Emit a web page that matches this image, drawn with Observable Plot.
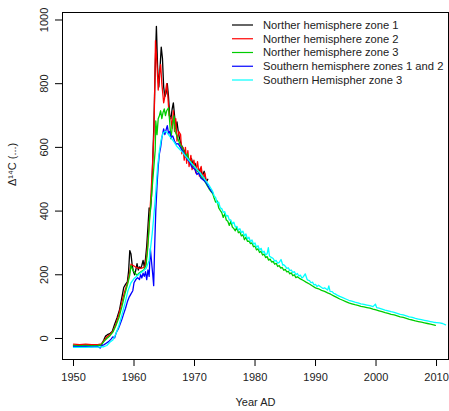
<!DOCTYPE html>
<html>
<head>
<meta charset="utf-8">
<script src="https://cdn.jsdelivr.net/npm/d3@7"></script>
<script src="https://cdn.jsdelivr.net/npm/@observablehq/plot@0.6"></script>
<style>
  html, body { margin: 0; padding: 0; background: white; }
  #chart { position: relative; width: 449px; height: 411px; }
</style>
</head>
<body>
<div id="chart"></div>
<script>
// ---- Data ----
const seriesNames = [
  "Norther hemisphere zone 1",
  "Norther hemisphere zone 2",
  "Norther hemisphere zone 3",
  "Southern hemisphere zones 1 and 2",
  "Southern Hemispher zone 3"
];
const seriesColors = ["black", "red", "#00CD00", "blue", "cyan"];
const xTicks = [1950, 1960, 1970, 1980, 1990, 2000, 2010];
const yTicks = [0, 200, 400, 600, 800, 1000];
const xLabel = "Year AD";
const yLabel = "Δ¹⁴C (...)";

const nh1 = [[1950.0,-22],[1951,-23],[1952,-22],[1953,-23],[1954,-22],[1954.6,-20],[1955,-5],[1955.3,8],[1955.6,12],[1956,15],[1956.4,22],[1956.8,45],[1957.2,65],[1957.6,90],[1958,130],[1958.3,160],[1958.6,170],[1958.9,178],[1959.1,210],[1959.3,276],[1959.5,265],[1959.7,230],[1959.9,210],[1960.1,200],[1960.3,215],[1960.5,235],[1960.7,215],[1960.9,225],[1961.1,220],[1961.3,230],[1961.5,245],[1961.7,225],[1961.9,250],[1962.1,290],[1962.3,350],[1962.5,410],[1962.7,400],[1962.9,450],[1963.1,560],[1963.3,680],[1963.5,850],[1963.7,980],[1963.9,850],[1964.1,790],[1964.3,850],[1964.5,915],[1964.7,880],[1964.9,790],[1965.1,760],[1965.3,770],[1965.5,800],[1965.7,760],[1965.9,700],[1966.1,690],[1966.3,720],[1966.5,740],[1966.7,700],[1966.9,660],[1967.1,680],[1967.3,652],[1967.5,630],[1967.8,610],[1968,600],[1968.3,590],[1968.6,575],[1968.9,570],[1969.2,555],[1969.5,565],[1969.8,540],[1970.1,550],[1970.4,530],[1970.7,520],[1971,535],[1971.3,510],[1971.6,525],[1971.9,490],[1972.2,500]];

const nh2 = [[1950.0,-18],[1951,-19],[1952,-18],[1953,-19],[1954,-19],[1954.6,-17],[1955,-8],[1955.5,5],[1956,12],[1956.5,22],[1957,45],[1957.5,75],[1958,115],[1958.5,150],[1959,180],[1959.3,210],[1959.5,233],[1959.8,230],[1960.2,225],[1960.6,222],[1961,220],[1961.4,222],[1961.8,225],[1962.1,260],[1962.4,330],[1962.7,420],[1963,520],[1963.3,650],[1963.55,935],[1963.8,860],[1964,780],[1964.2,830],[1964.4,860],[1964.6,800],[1964.9,740],[1965.1,760],[1965.4,800],[1965.6,760],[1965.8,700],[1966.1,690],[1966.3,660],[1966.5,715],[1966.7,650],[1966.9,690],[1967.1,620],[1967.4,650],[1967.7,640],[1967.9,580],[1968.1,600],[1968.3,560],[1968.5,600],[1968.7,550],[1968.9,590],[1969.1,540],[1969.4,575],[1969.6,530],[1969.9,560],[1970.2,520],[1970.5,555],[1970.8,510],[1971.1,540],[1971.4,500],[1971.7,520],[1972,490]];

const nh3 = [[1950.0,-22],[1951,-23],[1952,-22],[1953,-23],[1954,-22],[1954.6,-20],[1955,-10],[1955.5,0],[1956,8],[1956.5,20],[1957,40],[1957.5,65],[1958,100],[1958.5,140],[1959,175],[1959.3,200],[1959.5,229],[1959.8,215],[1960.2,205],[1960.5,198],[1960.8,205],[1961.2,210],[1961.6,215],[1962,230],[1962.3,290],[1962.6,380],[1962.9,450],[1963.2,520],[1963.5,590],[1963.6,683],[1963.8,640],[1964,690],[1964.2,700],[1964.4,715],[1964.6,690],[1964.8,710],[1965,721],[1965.2,700],[1965.4,715],[1965.7,724],[1965.9,680],[1966.1,627],[1966.3,660],[1966.6,699],[1966.8,650],[1967,640],[1967.3,625],[1967.6,610],[1967.9,600],[1968.2,590],[1968.5,570],[1968.8,580],[1969.1,560],[1969.4,555],[1969.7,545],[1970,540],[1970.3,530],[1970.6,525],[1970.9,515],[1971.2,505],[1971.5,500],[1971.8,490],[1972.1,480],[1972.4,470],[1972.7,462],[1973.0,455],[1973.25,440],[1973.5,428],[1973.75,432],[1974.0,410],[1974.25,402],[1974.5,395],[1974.75,380],[1975.0,392],[1975.25,372],[1975.5,368],[1975.75,355],[1976.0,368],[1976.25,350],[1976.5,345],[1976.75,338],[1977.0,350],[1977.25,332],[1977.5,335],[1977.75,322],[1978.0,326],[1978.25,310],[1978.5,318],[1978.75,305],[1979.0,306],[1979.25,298],[1979.5,300],[1979.75,288],[1980.0,290],[1980.25,278],[1980.5,282],[1980.75,270],[1981.0,274],[1981.25,262],[1981.5,265],[1981.75,254],[1982.0,257],[1982.25,246],[1982.5,249],[1982.75,240],[1983.0,242],[1983.25,233],[1983.5,236],[1983.75,226],[1984.0,229],[1984.25,221],[1984.5,223],[1984.75,214],[1985.0,217],[1985.25,209],[1985.5,211],[1985.75,203],[1986.0,206],[1986.25,197],[1986.5,200],[1986.75,191],[1987.0,194],[1987.5,187],[1988.0,182],[1988.5,176],[1989.0,171],[1989.5,165],[1990.0,159],[1990.5,156],[1991.0,151],[1991.5,148],[1992.0,143],[1992.5,139],[1993.0,134],[1993.5,129],[1994.0,124],[1994.5,120],[1995.0,116],[1995.5,112],[1996.0,109],[1996.5,106],[1997.0,104],[1997.5,101],[1998.0,99],[1998.5,97],[1999.0,95],[1999.5,92],[2000.0,90],[2000.5,87],[2001.0,84],[2001.5,81],[2002.0,79],[2002.5,76],[2003.0,74],[2003.5,71],[2004.0,68],[2004.5,66],[2005.0,63],[2005.5,60],[2006.0,58],[2006.5,55],[2007.0,53],[2007.5,51],[2008.0,49],[2008.5,47],[2009.0,45],[2009.5,43],[2009.8,41]];

const sh12 = [[1950.0,-25],[1951,-26],[1952,-25],[1953,-26],[1954,-25],[1954.4,-30],[1954.7,-22],[1955,-20],[1955.4,-15],[1955.8,-10],[1956.2,-2],[1956.5,5],[1956.8,2],[1957.1,20],[1957.4,30],[1957.7,45],[1958,60],[1958.3,78],[1958.6,95],[1958.9,115],[1959.2,130],[1959.5,140],[1959.8,150],[1960,175],[1960.3,185],[1960.6,191],[1960.9,185],[1961.1,200],[1961.3,190],[1961.5,205],[1961.7,195],[1961.9,210],[1962.1,185],[1962.3,215],[1962.5,195],[1962.7,282],[1962.9,240],[1963.1,200],[1963.25,166],[1963.4,280],[1963.6,400],[1963.8,480],[1964,540],[1964.2,580],[1964.4,600],[1964.6,630],[1964.9,658],[1965.1,640],[1965.3,655],[1965.5,668],[1965.7,645],[1965.9,650],[1966.1,630],[1966.4,636],[1966.7,620],[1967,610],[1967.3,612],[1967.7,599],[1968,590],[1968.3,580],[1968.6,570],[1968.9,560],[1969.2,555],[1969.5,540],[1969.8,535],[1970.1,530],[1970.4,515],[1970.7,520],[1971,505],[1971.3,500],[1971.6,495],[1971.9,490],[1972.2,480],[1972.5,470],[1972.8,462],[1973.1,455]];

const sh3 = [[1950.0,-28],[1951,-28],[1952,-28],[1953,-27],[1954,-27],[1955,-26],[1955.5,-22],[1956,-12],[1956.5,-5],[1957,15],[1957.5,40],[1958,75],[1958.5,110],[1959,150],[1959.5,175],[1960,188],[1960.5,196],[1961,205],[1961.5,212],[1962,220],[1962.5,245],[1963,328],[1963.3,390],[1963.6,460],[1963.9,540],[1964.2,590],[1964.5,625],[1964.8,645],[1965.1,650],[1965.4,648],[1965.7,640],[1966,632],[1966.3,625],[1966.7,615],[1967,605],[1967.5,595],[1968,585],[1968.5,573],[1969,562],[1969.5,550],[1970,540],[1970.5,528],[1971,518],[1971.5,505],[1972,492],[1972.5,478],[1973.0,462],[1973.25,448],[1973.5,442],[1973.75,425],[1974.0,428],[1974.25,410],[1974.5,408],[1974.75,396],[1975.0,398],[1975.25,384],[1975.5,386],[1975.75,372],[1976.0,372],[1976.25,360],[1976.5,365],[1976.75,350],[1977.0,352],[1977.25,340],[1977.5,345],[1977.75,332],[1978.0,337],[1978.25,322],[1978.5,328],[1978.75,312],[1979.0,318],[1979.25,304],[1979.5,309],[1979.75,296],[1980.0,300],[1980.25,286],[1980.5,291],[1980.75,278],[1981.0,283],[1981.25,270],[1981.5,274],[1981.75,262],[1982.0,266],[1982.2,285],[1982.4,258],[1982.75,254],[1983.0,251],[1983.25,243],[1983.5,245],[1983.75,236],[1984.0,239],[1984.3,248],[1984.6,230],[1984.75,232],[1985.0,227],[1985.25,220],[1985.5,222],[1985.75,213],[1986.0,215],[1986.25,207],[1986.5,210],[1986.75,200],[1987.0,204],[1987.25,196],[1987.5,199],[1987.75,190],[1988.0,194],[1988.3,203],[1988.6,186],[1988.75,183],[1989.0,182],[1989.25,175],[1989.5,177],[1989.75,168],[1990.0,170],[1990.25,163],[1990.5,167],[1991.0,160],[1991.25,157],[1991.5,159],[1992.0,152],[1992.2,165],[1992.4,148],[1992.75,147],[1993.0,142],[1993.25,140],[1993.5,137],[1994.0,132],[1994.5,128],[1995.0,124],[1995.5,120],[1996.0,117],[1996.5,114],[1997.0,112],[1997.5,109],[1998.0,107],[1998.5,105],[1999.0,103],[1999.5,100],[1999.9,108],[2000.1,97],[2000.5,95],[2001.0,92],[2001.5,89],[2002.0,87],[2002.5,84],[2003.0,82],[2003.5,79],[2004.0,76],[2004.5,74],[2005.0,71],[2005.5,68],[2006.0,66],[2006.5,63],[2007.0,61],[2007.5,59],[2008.0,57],[2008.5,55],[2009.0,53],[2009.5,51],[2010.0,50],[2010.5,49],[2011.0,47],[2011.5,43]];

// ---- Build table ----
const seriesData = [nh1, nh2, nh3, sh12, sh3];
const rows = seriesData.flatMap((s, i) => s.map(([year, d14c]) => ({name: seriesNames[i], year, d14c})));

const W = 449, H = 411;
const mL = 62, mR = 1, mT = 12, mB = 52;
const FONT = "'Liberation Sans', Arial, Helvetica, sans-serif";

const chart = Plot.plot({
  width: W,
  height: H,
  marginLeft: mL,
  marginRight: mR,
  marginTop: mT,
  marginBottom: mB,
  style: {fontFamily: FONT, fontSize: "11px", background: "white", overflow: "visible"},
  x: {domain: [1948.18, 2011.98]},
  y: {domain: [-66, 1023.5]},
  color: {domain: seriesNames, range: seriesColors},
  marks: [
    Plot.line(rows, {x: "year", y: "d14c", z: "name", stroke: "name", strokeWidth: 1.3}),
    Plot.frame({stroke: "black", strokeWidth: 1}),
    Plot.axisX(xTicks, {tickSize: 7, tickPadding: 7, tickFormat: d => String(d), fontSize: 11, label: null, stroke: "black", color: "#222"}),
    Plot.axisY(yTicks, {tickSize: 7, tickPadding: 8, tickRotate: -90, tickFormat: d => String(d), fontSize: 11, label: null, stroke: "black", color: "#222"}),
    Plot.text([yLabel], {frameAnchor: "left", dx: -50, rotate: -90, fontSize: 11, fill: "#222"}),
    Plot.text([xLabel], {frameAnchor: "bottom", dy: 46, fontSize: 11, fill: "#222"})
  ]
});

document.getElementById("chart").appendChild(chart);

// ---- Legend (inside plot area, no box) ----
const svg = d3.select(chart);
const lg = svg.append("g")
  .attr("font-family", FONT)
  .attr("font-size", 11.2)
  .attr("text-anchor", "start");
seriesNames.forEach((name, i) => {
  const y = 25 + i * 13.75;
  lg.append("line").attr("x1", 232).attr("x2", 253).attr("y1", y).attr("y2", y)
    .attr("stroke", seriesColors[i]).attr("stroke-width", 1.2);
  lg.append("text").attr("x", 263).attr("y", y).attr("dy", "0.35em")
    .attr("text-anchor", "start").attr("fill", "#222").text(name);
});
</script>
</body>
</html>
